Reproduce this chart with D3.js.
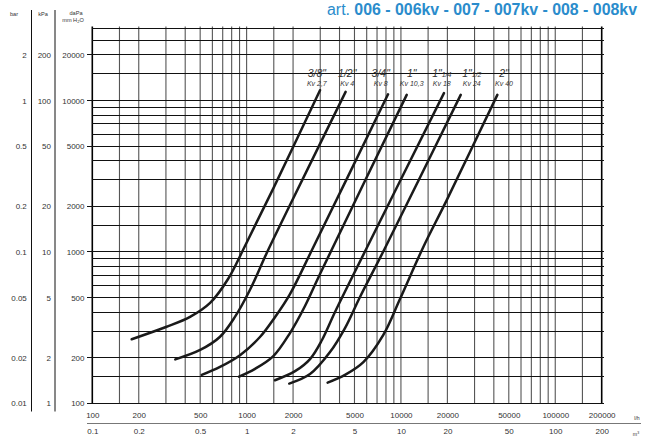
<!DOCTYPE html>
<html>
<head>
<meta charset="utf-8">
<script src="https://cdnjs.cloudflare.com/ajax/libs/d3/7.8.5/d3.min.js"></script>
<style>
  body{margin:0;background:#fff;}
  svg{display:block;font-family:"Liberation Sans",Arial,sans-serif;}
</style>
</head>
<body>
<div id="chart"></div>
<script>
'use strict';

// flow grid / ticks (l/h and m3/h)
const flowGrid = [100,150,200,300,400,500,600,700,800,900,1000,1500,2000,3000,4000,5000,6000,7000,8000,9000,
                  10000,15000,20000,30000,40000,50000,60000,70000,80000,90000,100000,150000,200000];
const flowTicks = [100,200,500,1000,2000,5000,10000,20000,50000,100000,200000];
const flowTicksM3 = ['0.1','0.2','0.5','1','2','5','10','20','50','100','200'];

// pressure grid / ticks (daPa = mm H2O, kPa, bar)
const dpGrid = [100,150,200,300,400,500,600,700,800,900,1000,1500,2000,3000,4000,5000,6000,7000,8000,9000,
                10000,15000,20000,25000,30000];
const dpTicks = [100,200,500,1000,2000,5000,10000,20000];
const kpaTicks = ['1','2','5','10','20','50','100','200'];
const barTicks = ['0.01','0.02','0.05','0.1','0.2','0.5','1','2'];

// curves : [flow l/h, pressure drop daPa]
const sizes = ['3/8"','1/2"','3/4"','1"','1"1/4','1"1/2','2"'];
const kvLabels = ['Kv 2,7','Kv 4','Kv 8','Kv 10,3','Kv 18','Kv 24','Kv 40'];
const labelFlow = [2850,4490,7400,11750,18400,28800,46600];
const curve38 = [[180,265],[300,319],[430,372],[580,460],[758,662],[976,1094],[1490,2630],[2990,11700]];
const curve12 = [[345,195],[500,225],[670,274],[840,372],[1050,560],[1350,983],[1910,2040],[4380,11400]];
const curve34 = [[512,154],[672,174],[906,208],[1220,274],[1530,372],[1910,527],[2670,1045],[8250,11000]];
const curve1 = [[893,150],[1134,169],[1490,205],[1910,291],[2390,439],[2990,715],[10900,10900]];
const curve114 = [[1528,142],[2060,163],[2576,196],[3080,262],[3740,401],[6000,1061],[19000,11200]];
const curve112 = [[1890,135],[2576,156],[3470,218],[4340,314],[5430,504],[7890,1061],[24400,10900]];
const curve2 = [[3350,137],[4340,154],[5710,187],[7690,283],[9860,489],[13970,1078],[19810,2200],[42150,10900]];
const curves = [curve38,curve12,curve34,curve1,curve114,curve112,curve2];

class PressureChart {
  constructor(options){
    this.width = options.width || 651;
    this.height = options.height || 438;
    this.x = d3.scaleLog().domain([100,200000]).range([92.3,601.7]);
    this.y = d3.scaleLog().domain([100,30000]).range([403.3,28.3]);
  }
  render(element){
    this.svg = element.append('svg')
      .attr('width',this.width).attr('height',this.height);
    this.drawTitle();
    this.drawGrid();
    this.drawPressureAxes();
    this.drawFlowAxes();
    this.drawCurves();
  }
  drawTitle(){
    const t = this.svg.append('text')
      .attr('x',327).attr('y',15)
      .attr('font-size',16).attr('fill','#2a8ccc')
      .attr('textLength',310).attr('lengthAdjust','spacingAndGlyphs');
    t.append('tspan').text('art. ');
    t.append('tspan').attr('font-weight','bold').text('006 - 006kv - 007 - 007kv - 008 - 008kv');
  }
  drawGrid(){
    const {svg,x,y} = this;
    const g = svg.append('g');
    g.selectAll('line.v').data(flowGrid).join('line')
      .attr('class','v')
      .attr('x1',d=>x(d)).attr('x2',d=>x(d))
      .attr('y1',26.5).attr('y2',y(100))
      .attr('stroke',d=>(d==100||d==200000)?'#000':'#555')
      .attr('stroke-width',d=>(d==100||d==200000)?1.6:1.1);
    g.selectAll('line.h').data(dpGrid).join('line')
      .attr('class','h')
      .attr('x1',d=>dpTicks.includes(d)?87:x(100)).attr('x2',604)
      .attr('y1',d=>y(d)).attr('y2',d=>y(d))
      .attr('stroke','#111').attr('stroke-width',1)
      .attr('shape-rendering','crispEdges');
  }
  drawPressureAxes(){
    const {svg,y} = this;
    const cols = [
      {x:84.5,fmt:d=>d},
      {x:51,fmt:(d,i)=>kpaTicks[i]},
      {x:26.8,fmt:(d,i)=>barTicks[i]}
    ];
    cols.forEach(c=>{
      const ax = svg.append('g').attr('transform','translate(' + c.x + ',0)')
        .call(d3.axisLeft(y).tickValues(dpTicks).tickSize(0).tickPadding(0).tickFormat(c.fmt));
      ax.select('.domain').remove();
      ax.selectAll('text').attr('font-size',8).attr('fill','#333')
        .attr('font-family','"Liberation Sans",Arial,sans-serif');
    });
    [31.5,55].forEach(xx=>svg.append('line')
      .attr('x1',xx).attr('x2',xx).attr('y1',10).attr('y2',411.5)
      .attr('stroke','#111').attr('stroke-width',1));
    const hdr = svg.append('g').attr('font-size',5.6).attr('fill','#333').attr('text-anchor','middle');
    hdr.append('text').attr('x',14).attr('y',16).text('bar');
    hdr.append('text').attr('x',43).attr('y',16).text('kPa');
    hdr.append('text').attr('x',76).attr('y',15).text('daPa');
    const mm = hdr.append('text').attr('x',73).attr('y',21.5).text('mm H');
    mm.append('tspan').attr('font-size',4).attr('dy',1).text('2');
    mm.append('tspan').attr('dy',-1).text('O');
  }
  drawFlowAxes(){
    const {svg,x} = this;
    const top = svg.append('g').attr('transform','translate(0,412)')
      .call(d3.axisBottom(x).tickValues(flowTicks).tickSize(0).tickPadding(0).tickFormat(d=>d));
    top.select('.domain').remove();
    top.selectAll('text').attr('font-size',8).attr('fill','#333')
      .attr('font-family','"Liberation Sans",Arial,sans-serif');
    const bot = svg.append('g').attr('transform','translate(0,428)')
      .call(d3.axisBottom(x).tickValues(flowTicks).tickSize(0).tickPadding(0).tickFormat((d,i)=>flowTicksM3[i]));
    bot.select('.domain').remove();
    bot.selectAll('text').attr('font-size',8).attr('fill','#333')
      .attr('font-family','"Liberation Sans",Arial,sans-serif');
    svg.append('line').attr('x1',87).attr('x2',641).attr('y1',423.5).attr('y2',423.5)
      .attr('stroke','#777').attr('stroke-width',1);
    svg.append('text').attr('x',637).attr('y',420).attr('font-size',5.2).attr('fill','#333')
      .attr('text-anchor','middle').text('l/h');
    const m3 = svg.append('text').attr('x',636).attr('y',436).attr('font-size',5.2).attr('fill','#333')
      .attr('text-anchor','middle').text('m');
    m3.append('tspan').attr('font-size',3.5).attr('dy',-2).text('3');
  }
  drawCurves(){
    const {svg,x,y} = this;
    const line = d3.line().x(d=>x(d[0])).y(d=>y(d[1])).curve(d3.curveCatmullRom.alpha(0.5));
    svg.append('g').selectAll('path').data(curves).join('path')
      .attr('d',line).attr('fill','none')
      .attr('stroke','#1a1a1a').attr('stroke-width',2.5).attr('stroke-linecap','round');
    const lbl = svg.append('g').attr('font-style','italic').attr('fill','#333').attr('text-anchor','middle');
    sizes.forEach((s,i)=>{
      const t = lbl.append('text').attr('x',x(labelFlow[i])).attr('y',76.5).attr('font-size',10.5);
      const parts = s.split('"');
      t.append('tspan').text(parts[0] + '"');
      if(parts[1]) t.append('tspan').attr('font-size',7).text(parts[1]);
      lbl.append('text').attr('x',x(labelFlow[i])).attr('y',85.5).attr('font-size',7).text(kvLabels[i]);
    });
  }
}

const chart = new PressureChart({width:651,height:438});
chart.render(d3.select('#chart'));
</script>
</body>
</html>
